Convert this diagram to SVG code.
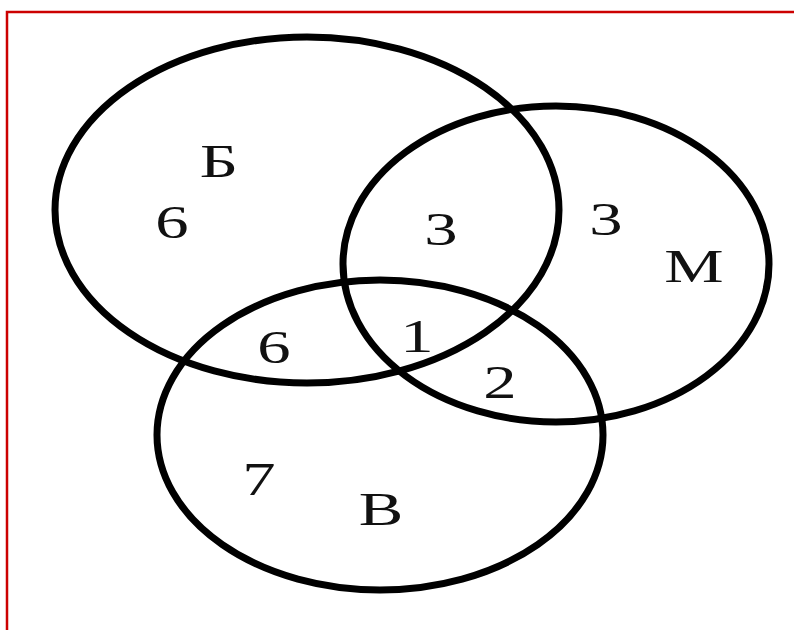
<svg xmlns="http://www.w3.org/2000/svg" width="794" height="630" viewBox="0 0 794 630">
  <style>
    .set { fill: none; stroke: #000; stroke-width: 7; }
    .lbl { font-family: "Liberation Serif", "Times New Roman", serif; font-size: 46px; fill: #111; text-anchor: middle; }
  </style>
  <rect x="0" y="0" width="794" height="630" fill="#fff"/>
  <path d="M7,640 V12 H800" fill="none" stroke="#cc0000" stroke-width="2.5"/>
  <g id="set-B">
    <ellipse class="set" cx="307" cy="210" rx="252" ry="173"/>
  </g>
  <g id="set-M">
    <ellipse class="set" cx="556" cy="264" rx="213" ry="158"/>
  </g>
  <g id="set-V">
    <ellipse class="set" cx="380" cy="435" rx="223" ry="155"/>
  </g>
  <g id="labels">
    <text class="lbl" transform="translate(219,177) scale(1.45,1)">Б</text>
    <text class="lbl" transform="translate(172,238) scale(1.45,1)">6</text>
    <text class="lbl" transform="translate(441,245) scale(1.45,1)">3</text>
    <text class="lbl" transform="translate(606,235) scale(1.45,1)">3</text>
    <text class="lbl" transform="translate(694,282) scale(1.45,1)">М</text>
    <text class="lbl" transform="translate(274,363) scale(1.45,1)">6</text>
    <text class="lbl" transform="translate(417,352) scale(1.45,1)">1</text>
    <text class="lbl" transform="translate(500,398) scale(1.45,1)">2</text>
    <text class="lbl" transform="translate(259,495) scale(1.45,1)">7</text>
    <text class="lbl" transform="translate(381,525) scale(1.45,1)">В</text>
  </g>
</svg>
